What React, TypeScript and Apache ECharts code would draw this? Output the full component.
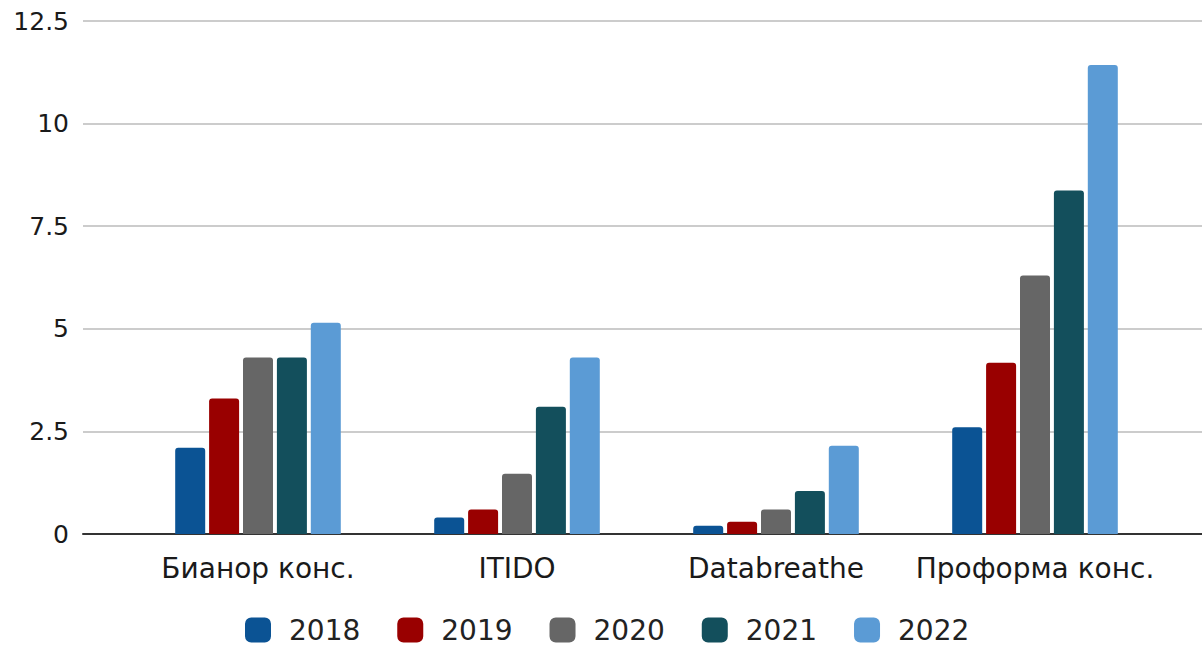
import React, { useEffect, useRef } from "react";
import * as echarts from "echarts";

const categories = ["Бианор конс.", "ITIDO", "Databreathe", "Проформа конс."];
const years = ["2018", "2019", "2020", "2021", "2022"];
const colors = ["#0b5394", "#990000", "#666666", "#134f5c", "#5b9bd5"];
const v2018 = [2.1, 0.4, 0.2, 2.6];
const v2019 = [3.3, 0.6, 0.3, 4.17];
const v2020 = [4.3, 1.47, 0.6, 6.3];
const v2021 = [4.3, 3.1, 1.05, 8.37];
const v2022 = [5.15, 4.3, 2.15, 11.43];
const seriesValues = [v2018, v2019, v2020, v2021, v2022];

const FONT = "'DejaVu Sans', Verdana, sans-serif";

export default function App() {
  const ref = useRef<HTMLDivElement>(null);
  useEffect(() => {
    if (!ref.current) return;
    const chart = echarts.init(ref.current, null, { renderer: "svg" });
    chart.setOption({
      animation: false,
      backgroundColor: "#ffffff",
      textStyle: { fontFamily: FONT },
      legend: {
        top: 616,
        left: 245,
        padding: 0,
        icon: "roundRect",
        itemWidth: 26,
        itemHeight: 25,
        itemGap: 37,
        textStyle: {
          fontSize: 28,
          lineHeight: 28,
          color: "#222222",
          fontFamily: FONT,
          padding: [0, 0, 0, 13],
        },
        data: years,
      },
      grid: [
        { left: 83, right: 0, top: 21, bottom: 114, containLabel: false },
        { left: 128.5, right: 37.5, top: 21, bottom: 114, containLabel: false },
      ],
      xAxis: [
        {
          gridIndex: 0,
          type: "category",
          data: categories,
          axisLine: { show: true, lineStyle: { color: "#333333", width: 2 } },
          axisTick: { show: false },
          axisLabel: { show: false },
          splitLine: { show: false },
        },
        {
          gridIndex: 1,
          type: "category",
          data: categories,
          axisLine: { show: false },
          axisTick: { show: false },
          axisLabel: {
            interval: 0,
            fontSize: 28,
            color: "#1a1a1a",
            margin: 20,
            fontFamily: FONT,
          },
        },
      ],
      yAxis: [
        {
          gridIndex: 0,
          type: "value",
          min: 0,
          max: 12.5,
          interval: 2.5,
          axisLine: { show: false },
          axisTick: { show: false },
          axisLabel: { fontSize: 25, color: "#1a1a1a", margin: 14, fontFamily: FONT },
          splitLine: { show: true, lineStyle: { color: "#cccccc", width: 2 } },
        },
        {
          gridIndex: 1,
          type: "value",
          min: 0,
          max: 12.5,
          interval: 2.5,
          show: false,
          splitLine: { show: false },
        },
      ],
      series: years.map((y, i) => ({
        name: y,
        type: "bar",
        xAxisIndex: 1,
        yAxisIndex: 1,
        data: seriesValues[i],
        barWidth: 30,
        barGap: "13%",
        itemStyle: { color: colors[i], borderRadius: [3, 3, 0, 0] },
      })),
    });
    return () => chart.dispose();
  }, []);
  return (
    <div
      ref={ref}
      style={{ position: "fixed", left: 0, top: 0, width: 1202, height: 648 }}
    />
  );
}
